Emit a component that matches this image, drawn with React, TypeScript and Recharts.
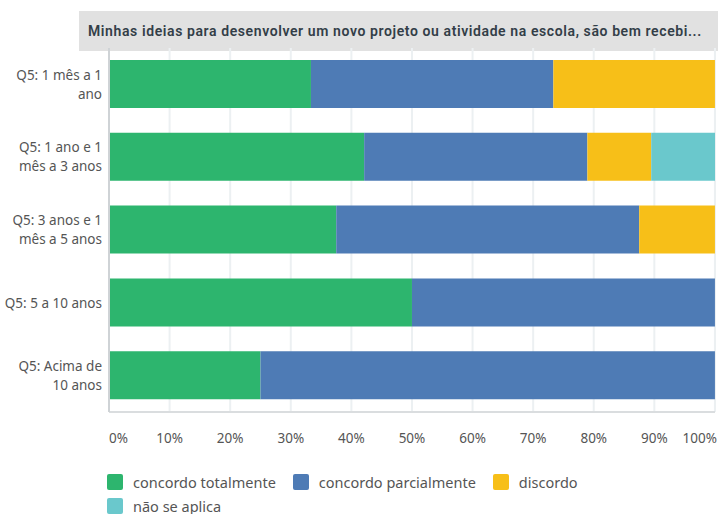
import { BarChart, Bar, XAxis, YAxis, CartesianGrid, Legend } from 'recharts';

const categories = [
  'Q5: 1 mês a 1\nano',
  'Q5: 1 ano e 1\nmês a 3 anos',
  'Q5: 3 anos e 1\nmês a 5 anos',
  'Q5: 5 a 10 anos',
  'Q5: Acima de\n10 anos',
];

const concordoTotalmente = [33.33, 42.11, 37.5, 50, 25];
const concordoParcialmente = [40, 36.84, 50, 50, 75];
const discordo = [26.67, 10.53, 12.5, 0, 0];
const naoSeAplica = [0, 10.53, 0, 0, 0];

const xTicks = [0, 10, 20, 30, 40, 50, 60, 70, 80, 90, 100];

const series = [
  { key: 'ct', name: 'concordo totalmente', color: '#2DB56E' },
  { key: 'cp', name: 'concordo parcialmente', color: '#4E7BB5' },
  { key: 'd', name: 'discordo', color: '#F7BF18' },
  { key: 'n', name: 'não se aplica', color: '#6AC8CC' },
];

const title = 'Minhas ideias para desenvolver um novo projeto ou atividade na escola, são bem recebi...';

const data = categories.map((c, i) => ({
  label: c,
  ct: concordoTotalmente[i],
  cp: concordoParcialmente[i],
  d: discordo[i],
  n: naoSeAplica[i],
}));

const font = '"Noto Sans", sans-serif';

const CategoryTick = (props: any) => {
  const { x, y, payload } = props;
  const lines = String(payload.value).split('\n');
  const lh = 19;
  const start = y - ((lines.length - 1) * lh) / 2;
  return (
    <text x={x} y={start} textAnchor="end" fill="#555" fontSize={13.5} fontFamily={font}>
      {lines.map((l: string, i: number) => (
        <tspan key={i} x={x} y={start + i * lh} dy="0.35em">
          {l}
        </tspan>
      ))}
    </text>
  );
};

const PercentTick = (props: any) => {
  const { x, y, payload } = props;
  const v = payload.value;
  const anchor = v === xTicks[0] ? 'start' : v === xTicks[xTicks.length - 1] ? 'end' : 'middle';
  const dx = v === xTicks[xTicks.length - 1] ? 2 : 0;
  return (
    <text x={x + dx} y={y} dy="0.71em" textAnchor={anchor} fill="#555" fontSize={13.5} fontFamily={font}>
      {`${v}%`}
    </text>
  );
};

const renderLegend = () => (
  <div style={{ height: 52, paddingLeft: 107, boxSizing: 'border-box', paddingTop: 11 }}>
    <div style={{ display: 'flex', flexWrap: 'wrap', width: 520, rowGap: 6 }}>
      {series.map((s) => (
        <div key={s.key} style={{ display: 'flex', alignItems: 'center', marginRight: 17, height: 18 }}>
          <span
            style={{
              display: 'inline-block',
              width: 16,
              height: 16,
              borderRadius: 2,
              background: s.color,
              marginRight: 10,
            }}
          />
          <span style={{ fontFamily: font, fontSize: 14.5, color: '#555' }}>{s.name}</span>
        </div>
      ))}
    </div>
  </div>
);

export default function App() {
  return (
    <div style={{ position: 'absolute', left: 0, top: 0, width: 718, height: 514, background: '#fff' }}>
      <div
        style={{
          position: 'absolute',
          left: 79,
          top: 11,
          width: 639,
          height: 40,
          background: '#E1E1E1',
          boxSizing: 'border-box',
          paddingLeft: 9,
          lineHeight: '40px',
          fontFamily: 'Roboto, sans-serif',
          fontWeight: 600,
          fontSize: 14,
          letterSpacing: 0.6,
          color: '#333e48',
          whiteSpace: 'nowrap',
          overflow: 'hidden',
        }}
      >
        {title}
      </div>
      <BarChart
        width={718}
        height={514}
        data={data}
        layout="vertical"
        barSize={48}
        margin={{ top: 48, right: 3, left: 0, bottom: 0 }}
      >
        <CartesianGrid horizontal={false} stroke="#ECF0F2" strokeWidth={2} />
        <XAxis
          type="number"
          domain={[0, 100]}
          ticks={xTicks}
          height={50}
          tickSize={0}
          tickMargin={21}
          tickLine={false}
          axisLine={{ stroke: '#DADDDF', strokeWidth: 2 }}
          tick={<PercentTick />}
          interval={0}
        />
        <YAxis
          type="category"
          dataKey="label"
          width={109}
          tick={<CategoryTick />}
          tickLine={false}
          tickSize={0}
          tickMargin={7}
          axisLine={{ stroke: '#CFD3D6', strokeWidth: 2 }}
          interval={0}
        />
        <Legend verticalAlign="bottom" align="left" content={renderLegend} />
        {series.map((s) => (
          <Bar key={s.key} dataKey={s.key} name={s.name} stackId="a" fill={s.color} isAnimationActive={false} />
        ))}
      </BarChart>
    </div>
  );
}
